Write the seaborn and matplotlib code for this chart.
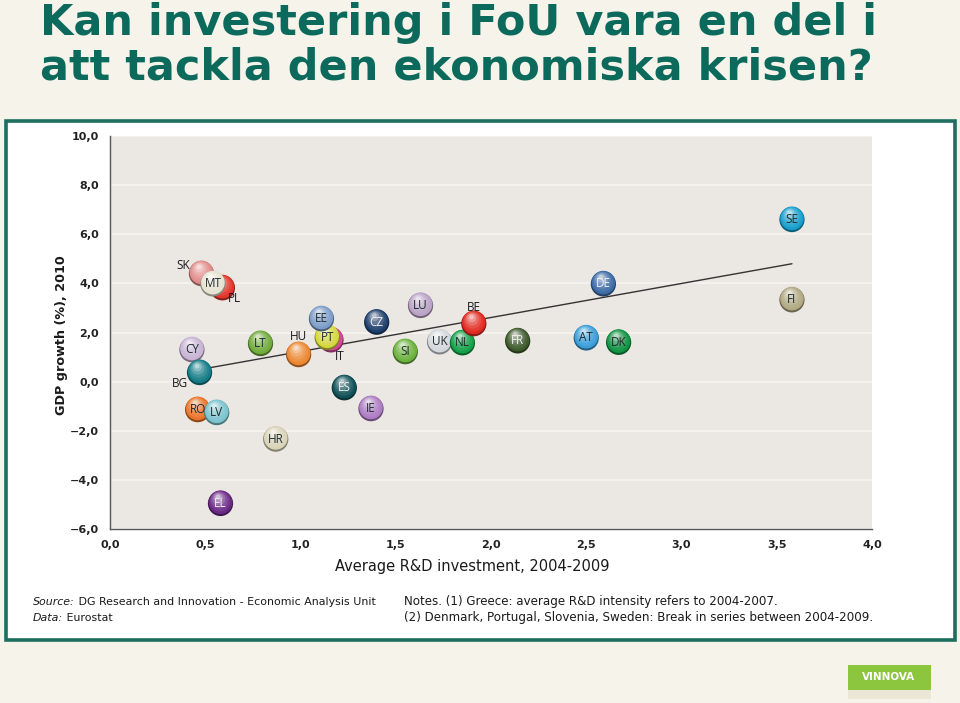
import matplotlib
matplotlib.use("Agg")

import matplotlib.colors as mcolors
import matplotlib.pyplot as plt
import matplotlib.transforms as mtransforms
import numpy as np
import pandas as pd
import seaborn as sns
from matplotlib.patches import Rectangle

# Country codes in drawing order (back to front where balls overlap)
countries = ["SK", "PL", "MT", "CY", "BG", "RO", "LV", "EL", "LT", "HU", "IT", "PT", "EE", "ES",
             "IE", "HR", "CZ", "LU", "SI", "UK", "NL", "BE", "FR", "AT", "DK", "DE", "SE", "FI"]
rd_investment = [0.48, 0.59, 0.54, 0.43, 0.47, 0.46, 0.56, 0.58, 0.79, 0.99, 1.16, 1.14, 1.11, 1.23,
                 1.37, 0.87, 1.40, 1.63, 1.55, 1.73, 1.85, 1.91, 2.14, 2.50, 2.67, 2.59, 3.58, 3.58]
gdp_growth = [4.40, 3.82, 3.98, 1.30, 0.37, -1.14, -1.26, -4.96, 1.55, 1.10, 1.70, 1.80, 2.56, -0.25,
              -1.10, -2.34, 2.42, 3.10, 1.22, 1.62, 1.58, 2.36, 1.66, 1.78, 1.60, 3.98, 6.60, 3.33]

trend_x = [0.44, 3.58]
trend_y = [0.45, 4.80]

x_ticks = [0.0, 0.5, 1.0, 1.5, 2.0, 2.5, 3.0, 3.5, 4.0]
x_tick_labels = ["0,0", "0,5", "1,0", "1,5", "2,0", "2,5", "3,0", "3,5", "4,0"]
y_ticks = [-6, -4, -2, 0, 2, 4, 6, 8, 10]
y_tick_labels = ["\u22126,0", "\u22124,0", "\u22122,0", "0,0", "2,0", "4,0", "6,0", "8,0", "10,0"]

ball_colors = {
    "SK": "#e08c8a", "PL": "#e2342b", "MT": "#e6e3d2", "CY": "#c9b4d5", "BG": "#127b86",
    "RO": "#ea7428", "LV": "#7bc3cd", "EL": "#6a2886", "LT": "#70ab3c", "HU": "#ec8630",
    "IT": "#d6479c", "PT": "#d4d83c", "EE": "#7d9dc9", "ES": "#105158", "IE": "#ad7cc2",
    "HR": "#d9d3b8", "CZ": "#1e3f6b", "LU": "#baa3c7", "SI": "#6cb23f", "UK": "#d4d8dc",
    "NL": "#13a048", "BE": "#e0291f", "FR": "#3e5a2c", "AT": "#3c9ed8", "DK": "#109343",
    "DE": "#3c6ba6", "SE": "#179ecd", "FI": "#b1a983",
}
light_text = {"EL", "ES", "CZ", "DE", "FR"}

# labels that sit beside their ball (offsets in points)
outside_offsets = {"SK": (-13, 6), "PL": (9, -8), "BG": (-14, -8), "HU": (0, 13),
                   "IT": (6, -12), "BE": (0, 12)}

df = pd.DataFrame({"country": countries, "rd": rd_investment, "gdp": gdp_growth})
trend = pd.DataFrame({"rd": trend_x, "gdp": trend_y})

sns.set_style("white")
plt.rcParams["font.family"] = ["DejaVu Sans"]

fig = plt.figure(figsize=(9.6, 7.03), dpi=100)
fig.patch.set_facecolor("#f5f3ea")

# white panel with green frame
fig.add_artist(Rectangle((0.0063, 0.0896), 0.9885, 0.7383, transform=fig.transFigure,
                         facecolor="white", edgecolor="#1c6e60", linewidth=2.6, zorder=-5))

ax = fig.add_axes([0.1146, 0.2475, 0.7937, 0.559])
ax.set_facecolor("#ebe7e3")

for yv in y_ticks:
    ax.axhline(yv, color="#f6f4f1", linewidth=1.2, zorder=0.5)

sns.lineplot(data=trend, x="rd", y="gdp", color="#333333", linewidth=1.0, ax=ax, zorder=2)


def draw_ball(row, z):
    base = np.array(mcolors.to_rgb(ball_colors[row.country]))
    sns.scatterplot(x=[row.rd], y=[row.gdp], s=330, color=tuple(base * 0.6), edgecolor="none",
                    linewidth=0, ax=ax, legend=False, zorder=z)
    layers = [(290, 0.0, 0.0, 0.9), (215, 0.08, -0.4, 1.6), (150, 0.18, -0.8, 2.5),
              (90, 0.32, -1.2, 3.3), (42, 0.5, -1.5, 4.1), (12, 0.7, -1.7, 4.7)]
    for k, (size, mix, dx, dy) in enumerate(layers):
        col = base * (1 - mix) + mix
        tr = mtransforms.offset_copy(ax.transData, fig=fig, x=dx, y=dy, units="points")
        ax.scatter([row.rd], [row.gdp], s=size, color=tuple(col), edgecolor="none",
                   transform=tr, zorder=z + 0.01 * (k + 1))


for i, row in enumerate(df.itertuples()):
    draw_ball(row, 3 + i * 0.1)

for row in df.itertuples():
    if row.country in outside_offsets:
        off = outside_offsets[row.country]
        tcol = "#1a1a1a"
    else:
        off = (0, 0)
        tcol = "#f2f2f2" if row.country in light_text else "#1f2b2e"
    ax.annotate(row.country, (row.rd, row.gdp), xytext=off, textcoords="offset points",
                ha="center", va="center", fontsize=8.5, color=tcol, zorder=10,
                family=["Open Sans", "DejaVu Sans"])

ax.set_xlim(0, 4)
ax.set_ylim(-6, 10)
ax.set_xticks(x_ticks)
ax.set_xticklabels(x_tick_labels, fontsize=8, fontweight="bold", color="#222222")
ax.set_yticks(y_ticks)
ax.set_yticklabels(y_tick_labels, fontsize=8, fontweight="bold", color="#222222")
ax.tick_params(axis="both", direction="out", length=4, width=1, color="#555555", pad=4)
for side in ["top", "right"]:
    ax.spines[side].set_visible(False)
for side in ["left", "bottom"]:
    ax.spines[side].set_color("#555555")
    ax.spines[side].set_linewidth(1.0)
ax.set_xlabel("")
ax.set_ylabel("")

fig.text(472 / 960, 1 - 566 / 703, "Average R&D investment, 2004-2009", ha="center", va="center",
         fontsize=10.5, color="#1a1a1a", fontweight="medium")
fig.text(62 / 960, 1 - 335 / 703, "GDP growth (%), 2010", ha="center", va="center",
         rotation=90, fontsize=9.2, color="#1a1a1a", fontweight="bold")

# title
fig.text(40 / 960, 1 - 35 / 703, "Kan investering i FoU vara en del i", ha="left", va="baseline",
         fontsize=31, fontweight="bold", color="#0b6a5b")
fig.text(40 / 960, 1 - 80 / 703, "att tackla den ekonomiska krisen?", ha="left", va="baseline",
         fontsize=31, fontweight="bold", color="#0b6a5b")

# footnotes: italic lead word followed directly by the rest of the line
src = fig.text(33 / 960, 1 - 602 / 703, "Source:", ha="left", va="center", fontsize=7.9,
               style="italic", color="#1a1a1a")
fig.add_artist(plt.Annotation(" DG Research and Innovation - Economic Analysis Unit", xy=(1, 0.5),
                              xycoords=src, ha="left", va="center", fontsize=7.9, color="#1a1a1a"))
dat = fig.text(33 / 960, 1 - 618 / 703, "Data:", ha="left", va="center", fontsize=7.9,
               style="italic", color="#1a1a1a")
fig.add_artist(plt.Annotation(" Eurostat", xy=(1, 0.5), xycoords=dat, ha="left", va="center",
                              fontsize=7.9, color="#1a1a1a"))
fig.text(404 / 960, 1 - 602 / 703, "Notes. (1) Greece: average R&D intensity refers to 2004-2007.",
         ha="left", va="center", fontsize=8.6, color="#1a1a1a")
fig.text(404 / 960, 1 - 618 / 703,
         "(2) Denmark, Portugal, Slovenia, Sweden: Break in series between 2004-2009.",
         ha="left", va="center", fontsize=8.6, color="#1a1a1a")

# logo
fig.add_artist(Rectangle((848 / 960, 1 - 699 / 703), 83 / 960, 34 / 703, transform=fig.transFigure,
                         facecolor="#ebe6d6", edgecolor="none"))
fig.add_artist(Rectangle((848 / 960, 1 - 690 / 703), 83 / 960, 25 / 703, transform=fig.transFigure,
                         facecolor="#8cc63e", edgecolor="none"))
fig.text(889 / 960, 1 - 677 / 703, "VINNOVA", ha="center", va="center", fontsize=7.5,
         fontweight="bold", color="white")

fig.savefig("out.png", dpi=100, facecolor=fig.get_facecolor())
